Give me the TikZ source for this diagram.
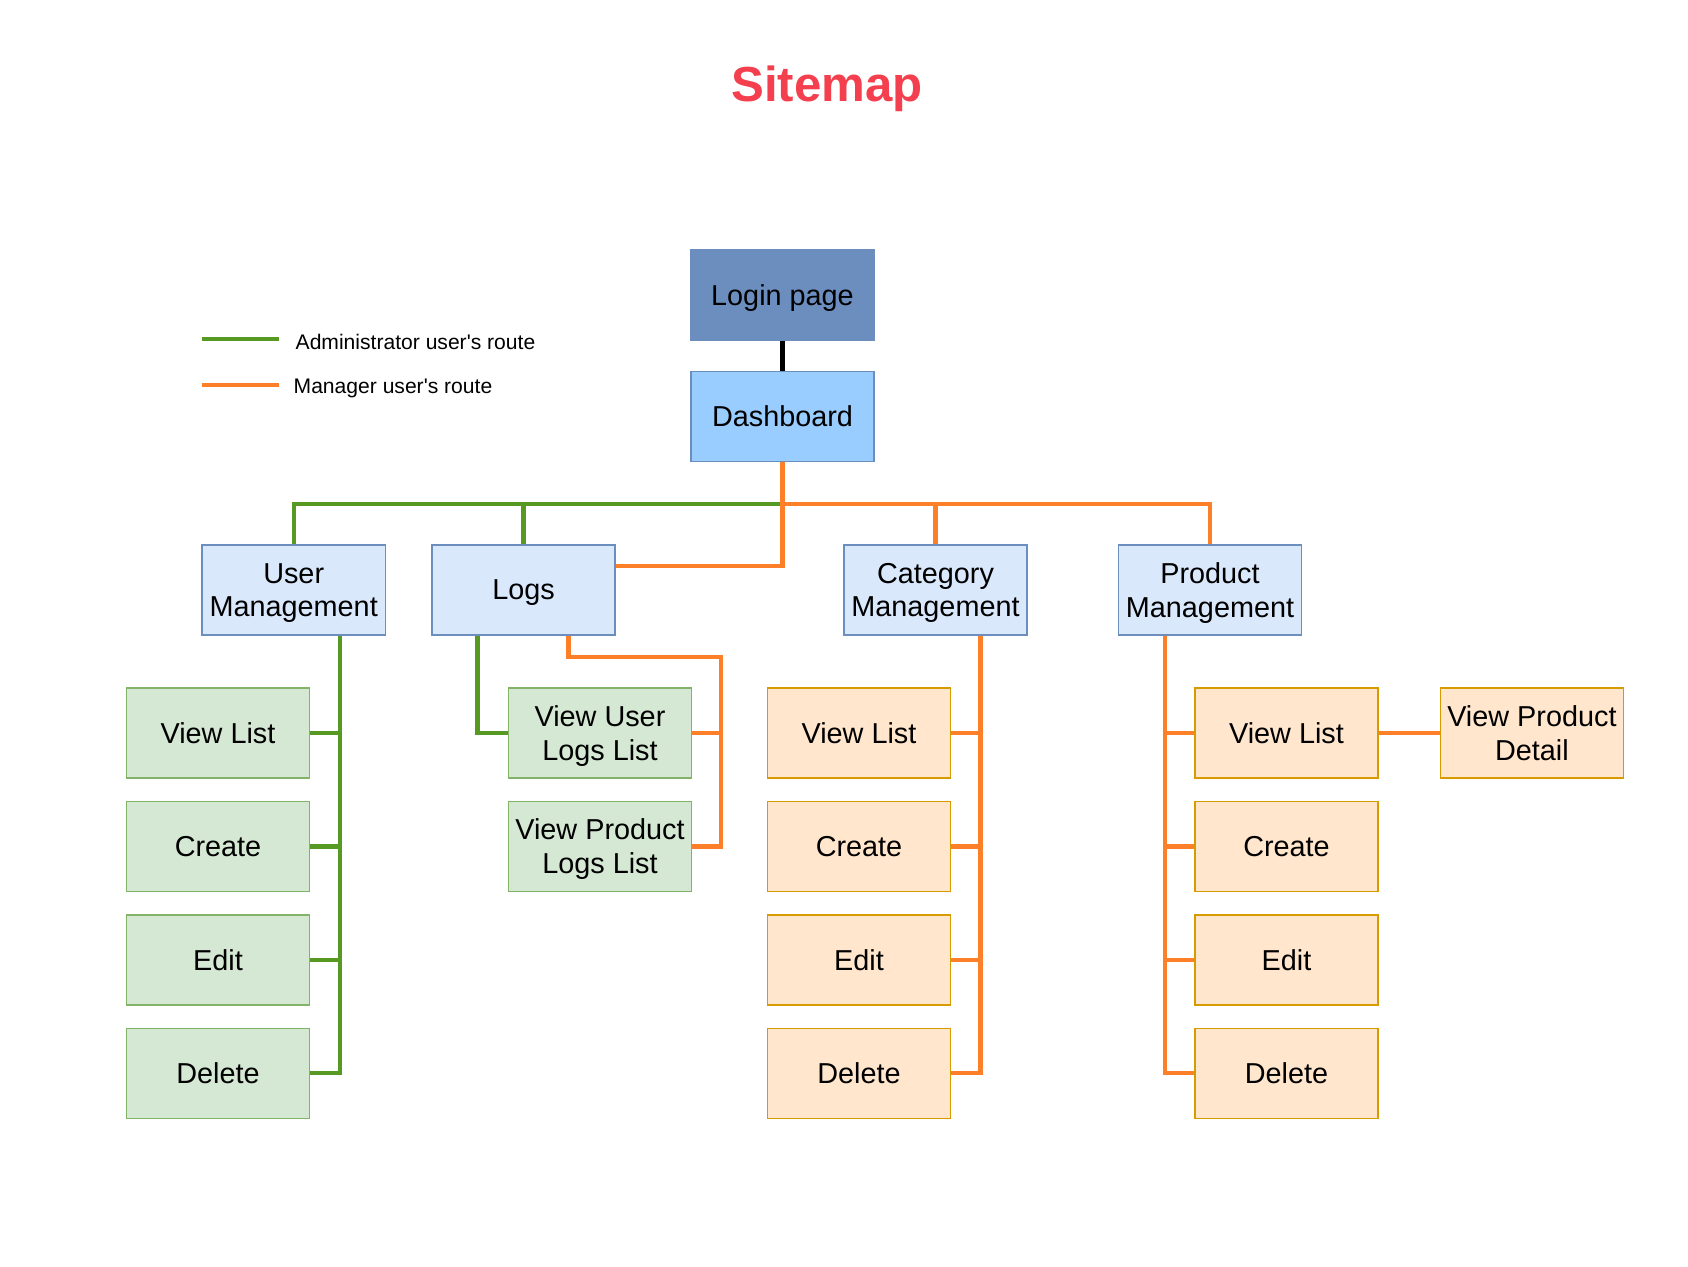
\documentclass[tikz,border=0pt]{standalone}
\usepackage{fontspec}
\setmainfont{Liberation Sans}
\usetikzlibrary{positioning}
\definecolor{titlered}{RGB}{244,63,78}
\definecolor{admgreen}{RGB}{86,153,35}
\definecolor{mgrorange}{RGB}{253,127,40}
\definecolor{blueedge}{RGB}{108,142,191}
\definecolor{greenedge}{RGB}{130,179,102}
\definecolor{orangeedge}{RGB}{215,155,0}

\begin{document}
\begin{tikzpicture}[node distance=0.22cm,
    box/.style={draw, line width=0.4pt, minimum width=1.83cm, minimum height=0.9cm, inner sep=1pt, text depth=0pt, align=center, font=\fontsize{8.2}{9.6}\selectfont},
    topbox/.style={box, fill=blueedge, draw=blueedge},
    dashbox/.style={box, fill={rgb,255:red,153;green,204;blue,255}, draw=blueedge},
    secbox/.style={box, fill={rgb,255:red,218;green,232;blue,252}, draw=blueedge},
    admbox/.style={box, fill={rgb,255:red,213;green,232;blue,212}, draw=greenedge},
    mgrbox/.style={box, fill={rgb,255:red,255;green,230;blue,204}, draw=orangeedge},
    adminroute/.style={admgreen, line width=1.2pt},
    mgrroute/.style={mgrorange, line width=1.2pt},
    legend/.style={inner sep=0pt, anchor=west, font=\fontsize{6}{7}\selectfont}]
    \useasboundingbox (0,0) rectangle (16.88,-12.66);

    \node[font=\bfseries\fontsize{14}{16}\selectfont, text=titlered] (title) at (8.27,-0.89) {Sitemap};

    % legend
    \node[legend] (lgadm) at (2.95,-3.42) {Administrator user\textquotesingle s route};
    \node[legend] (lgmgr) at (2.93,-3.88) {Manager user\textquotesingle s route};
    \draw[adminroute] ([xshift=-0.16cm, yshift=0.03cm]lgadm.west) -- ++(-0.77,0);
    \draw[mgrroute] ([xshift=-0.14cm, yshift=0.03cm]lgmgr.west) -- ++(-0.77,0);

    % top
    \node[topbox] (login) at (7.825,-2.95) {Login page};
    \node[dashbox, below=0.3cm of login] (dash) {Dashboard};

    % sections
    \node[secbox] (um) at (2.937,-5.9) {User\\Management};
    \node[secbox] (logs) at (5.235,-5.9) {Logs};
    \node[secbox] (cat) at (9.355,-5.9) {Category\\Management};
    \node[secbox] (prod) at (12.10,-5.9) {Product\\Management};

    % pages
    \node[admbox] (um1) at (2.18,-7.33) {View List};
    \node[admbox, below=of um1] (um2) {Create};
    \node[admbox, below=of um2] (um3) {Edit};
    \node[admbox, below=of um3] (um4) {Delete};

    \node[admbox] (lg1) at (6.00,-7.33) {View User\\Logs List};
    \node[admbox, below=of lg1] (lg2) {View Product\\Logs List};

    \node[mgrbox] (cat1) at (8.59,-7.33) {View List};
    \node[mgrbox, below=of cat1] (cat2) {Create};
    \node[mgrbox, below=of cat2] (cat3) {Edit};
    \node[mgrbox, below=of cat3] (cat4) {Delete};

    \node[mgrbox] (pr1) at (12.865,-7.33) {View List};
    \node[mgrbox, below=of pr1] (pr2) {Create};
    \node[mgrbox, below=of pr2] (pr3) {Edit};
    \node[mgrbox, below=of pr3] (pr4) {Delete};
    \node[mgrbox, right=0.61cm of pr1] (det) {View Product\\Detail};

    % routes
    \draw[black, line width=1.2pt] (login) -- (dash);
    \coordinate (bus) at ([yshift=-0.42cm]dash.south);
    \draw[adminroute] (bus) -| (um.north);
    \draw[adminroute] (bus) -| (logs.north);
    \draw[mgrroute] (bus) -| (cat.north);
    \draw[mgrroute] (bus) -| (prod.north);
    \draw[mgrroute] (dash.south) |- ([yshift=0.24cm]logs.east);

    \coordinate (umt) at ([xshift=0.46cm]um.south);
    \draw[adminroute] (umt) |- (um4.east);
    \foreach \i in {1,2,3}
        \draw[adminroute] (um\i.east) -- (um\i.east -| umt);

    \draw[adminroute] ([xshift=-0.46cm]logs.south) |- (lg1.west);
    \coordinate (lgt) at (7.213,-6.567);
    \draw[mgrroute] ([xshift=0.45cm]logs.south) |- (lgt) |- (lg2.east);
    \draw[mgrroute] (lg1.east) -- (lg1.east -| lgt);

    \coordinate (catt) at ([xshift=0.45cm]cat.south);
    \draw[mgrroute] (catt) |- (cat4.east);
    \foreach \i in {1,2,3}
        \draw[mgrroute] (cat\i.east) -- (cat\i.east -| catt);

    \coordinate (prt) at ([xshift=-0.45cm]prod.south);
    \draw[mgrroute] (prt) |- (pr4.west);
    \foreach \i in {1,2,3}
        \draw[mgrroute] (pr\i.west) -- (pr\i.west -| prt);
    \draw[mgrroute] (pr1) -- (det);
\end{tikzpicture}
\end{document}
